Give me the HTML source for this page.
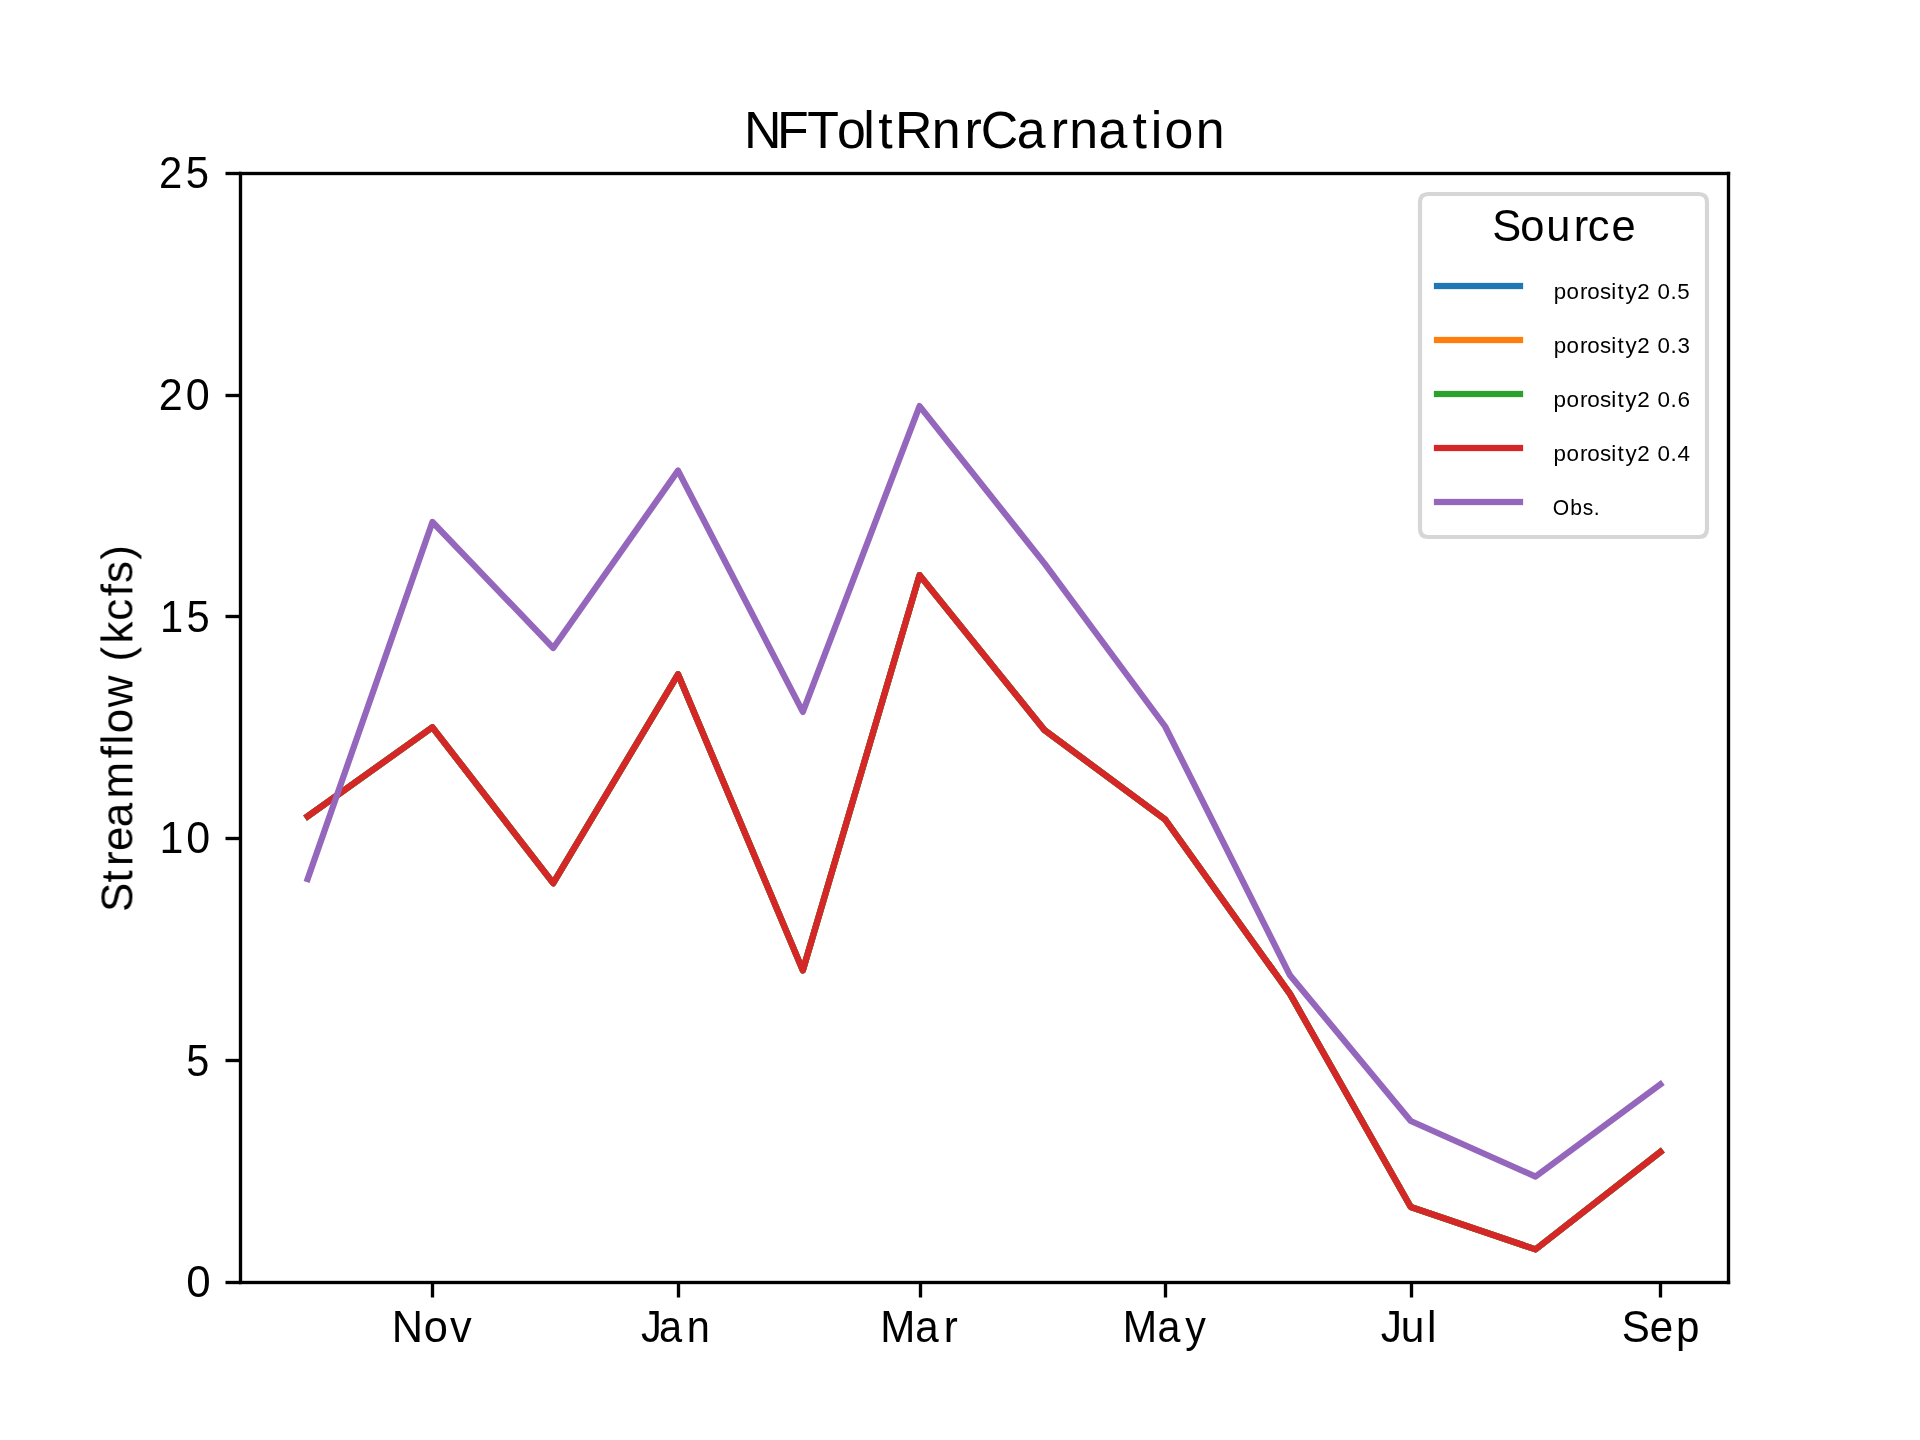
<!DOCTYPE html>
<html lang="en">
<head>
<meta charset="utf-8">
<title>NFToltRnrCarnation</title>
<style>
html,body{margin:0;padding:0;background:#ffffff;}
body{width:1920px;height:1440px;overflow:hidden;}
svg{display:block;}
text{font-family:"Liberation Sans",sans-serif;fill:#000000;}
.txt{mix-blend-mode:multiply;}
.ln{fill:none;stroke-width:6.25;stroke-linejoin:round;stroke-linecap:square;}
</style>
</head>
<body>
<svg width="1920" height="1440" viewBox="0 0 1920 1440">
<rect x="0" y="0" width="1920" height="1440" fill="#ffffff"/>
<g id="lines">
<polyline class="ln" stroke="#1f77b4" points="307.64,816.30 432.44,727.30 553.22,883.20 678.03,674.30 802.83,970.40 919.58,575.10 1044.39,730.00 1165.17,819.50 1289.97,993.90 1410.75,1207.00 1535.56,1249.40 1660.36,1151.90"/>
<polyline class="ln" stroke="#ff7f0e" points="307.64,816.30 432.44,727.30 553.22,883.20 678.03,674.30 802.83,970.40 919.58,575.10 1044.39,730.00 1165.17,819.50 1289.97,993.90 1410.75,1207.00 1535.56,1249.40 1660.36,1151.90"/>
<polyline class="ln" stroke="#2ca02c" points="307.64,816.30 432.44,727.30 553.22,883.20 678.03,674.30 802.83,970.40 919.58,575.10 1044.39,730.00 1165.17,819.50 1289.97,993.90 1410.75,1207.00 1535.56,1249.40 1660.36,1151.90"/>
<polyline class="ln" stroke="#d62728" points="307.64,816.30 432.44,727.30 553.22,883.20 678.03,674.30 802.83,970.40 919.58,575.10 1044.39,730.00 1165.17,819.50 1289.97,993.90 1410.75,1207.00 1535.56,1249.40 1660.36,1151.90"/>
<polyline class="ln" stroke="#9467bd" points="307.64,879.00 432.44,522.00 553.22,648.00 678.03,470.60 802.83,711.90 919.58,406.10 1044.39,563.40 1165.17,726.50 1289.97,975.30 1410.75,1121.00 1535.56,1176.60 1660.36,1084.40"/>
</g>
<g id="ticks">
<rect x="430.8333" y="1282.5000" width="3.3333" height="15.0000" fill="#000000"/>
<rect x="676.8333" y="1282.5000" width="3.3333" height="15.0000" fill="#000000"/>
<rect x="918.8333" y="1282.5000" width="3.3333" height="15.0000" fill="#000000"/>
<rect x="1163.8333" y="1282.5000" width="3.3333" height="15.0000" fill="#000000"/>
<rect x="1409.8333" y="1282.5000" width="3.3333" height="15.0000" fill="#000000"/>
<rect x="1658.8333" y="1282.5000" width="3.3333" height="15.0000" fill="#000000"/>
<rect x="225.5000" y="171.8333" width="15.0000" height="3.3333" fill="#000000"/>
<rect x="225.5000" y="393.8333" width="15.0000" height="3.3333" fill="#000000"/>
<rect x="225.5000" y="614.8333" width="15.0000" height="3.3333" fill="#000000"/>
<rect x="225.5000" y="836.8333" width="15.0000" height="3.3333" fill="#000000"/>
<rect x="225.5000" y="1058.8333" width="15.0000" height="3.3333" fill="#000000"/>
<rect x="225.5000" y="1280.8333" width="15.0000" height="3.3333" fill="#000000"/>
</g>
<g id="spines">
<rect x="238.8333" y="171.8333" width="3.3333" height="1112.3333" fill="#000000"/>
<rect x="1726.8333" y="171.8333" width="3.3333" height="1112.3333" fill="#000000"/>
<rect x="238.8333" y="1280.8333" width="1491.3333" height="3.3333" fill="#000000"/>
<rect x="238.8333" y="171.8333" width="1491.3333" height="3.3333" fill="#000000"/>
</g>
<g id="labels" class="txt">
<text transform="translate(749.00,148.00) scale(0.9903,1)" font-size="52.4" x="-5.00 28.18 58.82 88.75 115.31 130.63 147.37 184.56 217.50 234.06 270.33 304.61 323.38 352.85 387.27 405.79 419.49 451.03" y="0">NFToltRnrCarnation</text>
<text transform="translate(132.40,908.00) rotate(-90) scale(0.9920,1)" font-size="44.2" x="-3.95 25.85 42.40 57.40 81.50 110.38 150.88 164.79 176.09 202.39 234.31 248.57 266.66 289.52 314.38 327.55 351.18" y="0">Streamflow (kcfs)</text>
<text transform="translate(161.00,188.00) scale(0.9476,1)" font-size="44.2" x="-2.11 26.24" y="0">25</text>
<text transform="translate(161.00,410.00) scale(0.9762,1)" font-size="44.2" x="-2.41 25.28" y="0">20</text>
<text transform="translate(163.00,632.00) scale(0.9432,1)" font-size="44.2" x="-3.31 24.80" y="0">15</text>
<text transform="translate(163.00,853.00) scale(0.9726,1)" font-size="44.2" x="-3.60 23.85" y="0">10</text>
<text transform="translate(188.00,1076.00) scale(0.9378,1)" font-size="44.2" x="-1.77" y="0">5</text>
<text transform="translate(188.00,1297.00) scale(0.9937,1)" font-size="44.2" x="-1.73" y="0">0</text>
<text transform="translate(396.00,1342.00) scale(0.9810,1)" font-size="44.2" x="-4.25 28.28 55.05" y="0">Nov</text>
<text transform="translate(645.00,1342.00) scale(0.9400,1)" font-size="44.2" x="-4.26 15.03 44.34" y="0">Jan</text>
<text transform="translate(884.00,1342.00) scale(0.9536,1)" font-size="44.2" x="-3.84 32.86 62.63" y="0">Mar</text>
<text transform="translate(1126.00,1342.00) scale(0.9331,1)" font-size="44.2" x="-3.52 33.87 63.60" y="0">May</text>
<text transform="translate(1385.00,1342.00) scale(0.9600,1)" font-size="44.2" x="-4.36 16.40 43.63" y="0">Jul</text>
<text transform="translate(1625.00,1342.00) scale(0.9519,1)" font-size="44.2" x="-3.50 26.13 53.67" y="0">Sep</text>
</g>
<g id="legend">
<path d="M1428.333,194.0L1698.667,194.0Q1707.0,194.0 1707.0,202.333L1707.0,528.667Q1707.0,537.0 1698.667,537.0L1428.333,537.0Q1420.0,537.0 1420.0,528.667L1420.0,202.333Q1420.0,194.0 1428.333,194.0Z" fill="#ffffff" fill-opacity="0.8" stroke="#cccccc" stroke-opacity="0.8" stroke-width="4.1667" stroke-linejoin="miter"/>
<rect x="1433.8750" y="282.8750" width="89.2500" height="6.2500" fill="#1f77b4"/>
<rect x="1433.8750" y="336.8750" width="89.2500" height="6.2500" fill="#ff7f0e"/>
<rect x="1433.8750" y="390.8750" width="89.2500" height="6.2500" fill="#2ca02c"/>
<rect x="1433.8750" y="444.8750" width="89.2500" height="6.2500" fill="#d62728"/>
<rect x="1433.8750" y="498.8750" width="89.2500" height="6.2500" fill="#9467bd"/>
</g>
<g id="legend-text" class="txt">
<text transform="translate(1496.00,241.40) scale(0.9822,1)" font-size="44.2" x="-3.84 24.80 51.10 79.08 93.54 117.57" y="0">Source</text>
<text transform="translate(1555.00,299.20) scale(1.0097,1)" font-size="22.1" x="-1.35 11.42 24.85 32.07 44.55 55.74 61.99 69.75 81.55 93.84 101.55 114.48 121.19" y="0">porosity2 0.5</text>
<text transform="translate(1555.00,353.20) scale(1.0115,1)" font-size="22.1" x="-1.36 11.39 24.80 32.01 44.46 55.64 61.87 69.62 81.39 93.69 101.36 114.28 121.08" y="0">porosity2 0.3</text>
<text transform="translate(1555.00,407.20) scale(1.0194,1)" font-size="22.1" x="-1.39 11.25 24.57 31.71 44.07 55.19 61.37 69.03 80.71 93.01 100.52 113.37 120.06" y="0">porosity2 0.6</text>
<text transform="translate(1555.00,461.20) scale(1.0156,1)" font-size="22.1" x="-1.38 11.32 24.68 31.85 44.26 55.41 61.61 69.31 81.04 93.33 100.92 113.81 120.54" y="0">porosity2 0.4</text>
<text transform="translate(1554.00,515.20) scale(0.9549,1)" font-size="22.1" x="-1.23 16.91 30.17 41.64" y="0">Obs.</text>
</g>
</svg>
</body>
</html>
